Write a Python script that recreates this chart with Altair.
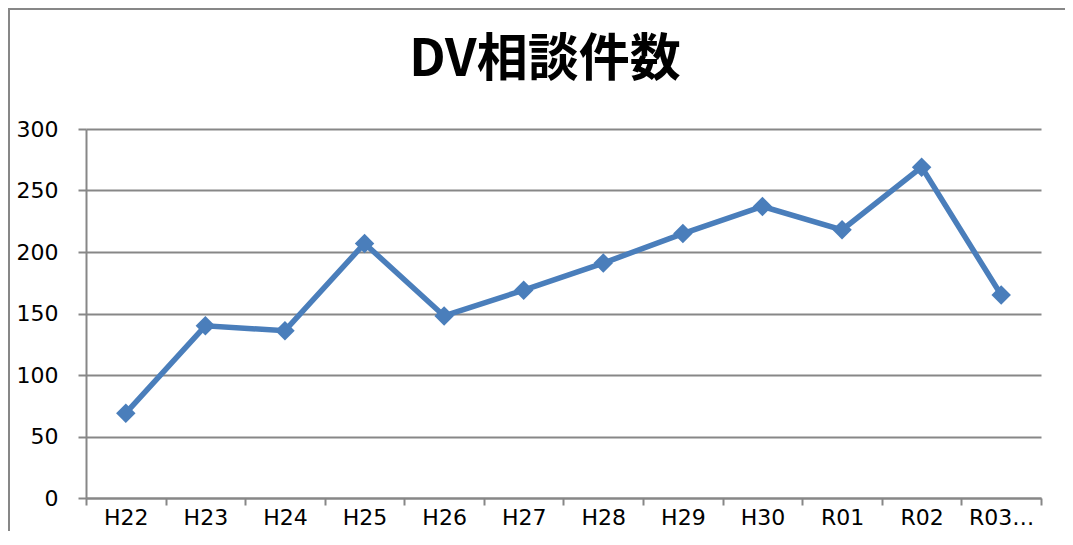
import altair as alt
import pandas as pd

years = ["H22", "H23", "H24", "H25", "H26", "H27", "H28", "H29", "H30", "R01", "R02", "R03…"]
counts = [69, 140, 136, 207, 148, 169, 191, 215, 237, 218, 269, 165]
y_ticks = [0, 50, 100, 150, 200, 250, 300]
title_text = "DV相談件数"

df = pd.DataFrame({"year": years, "count": counts})

GRAY = "#878787"
BLUE = "#4a7ebb"
FONT = "DejaVu Sans"

line = alt.Chart(df).mark_line(
    color=BLUE,
    strokeWidth=5.5,
    point=alt.OverlayMarkDef(shape="diamond", size=380, filled=True, color=BLUE, opacity=1),
).encode(
    x=alt.X(
        "year:N",
        sort=years,
        scale=alt.Scale(type="band", paddingInner=0, paddingOuter=0),
        axis=alt.Axis(
            title=None, labelAngle=0, tickBand="extent", grid=False,
            domainColor=GRAY, domainWidth=2, tickColor=GRAY, tickWidth=2, tickSize=7,
            labelFont=FONT, labelFontSize=22, labelColor="black", labelPadding=2,
        ),
    ),
    y=alt.Y(
        "count:Q",
        scale=alt.Scale(domain=[0, 300], nice=False),
        axis=alt.Axis(
            title=None, values=y_ticks, grid=True, gridColor=GRAY, gridWidth=2,
            domainColor=GRAY, domainWidth=2, tickColor=GRAY, tickWidth=2, tickSize=8,
            labelFont=FONT, labelFontSize=22, labelColor="black", labelPadding=20,
        ),
    ),
)

one = pd.DataFrame({"a": [0]})

frame = alt.Chart(one).mark_rect(
    filled=False, stroke=GRAY, strokeWidth=2
).encode(
    x=alt.value(-77), y=alt.value(-120), x2=alt.value(3000), y2=alt.value(3000)
)

title = alt.Chart(one).mark_text(
    text=title_text, font="Noto Sans CJK JP", fontSize=51, fontWeight="bold",
    color="black", align="center", baseline="middle",
).encode(x=alt.value(459), y=alt.value(-68))

chart = alt.layer(frame, title, line).properties(
    width=955,
    height=369,
    autosize=alt.AutoSizeParams(type="none"),
    padding={"left": 78, "top": 121, "right": 24, "bottom": 33},
).configure_view(stroke=None)

chart.save("out.html", embed_options={"renderer": "svg", "actions": False})
